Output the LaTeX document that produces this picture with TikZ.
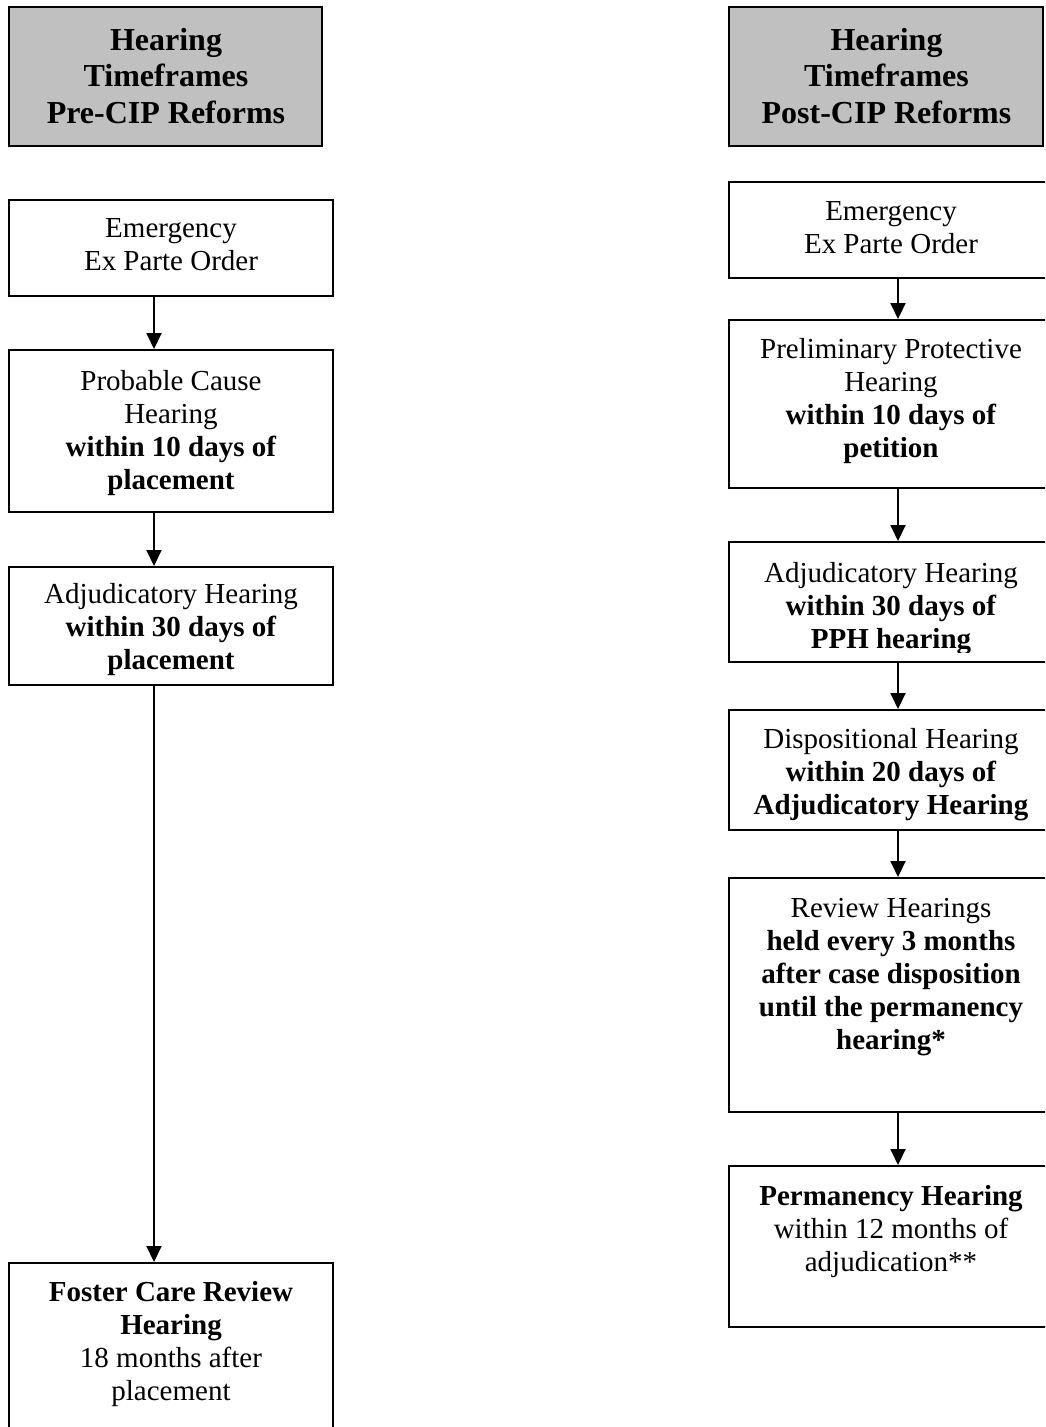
\documentclass[tikz,border=0pt]{standalone}
\usepackage{fontspec}
\setmainfont{Liberation Serif}
\usetikzlibrary{arrows.meta}
\definecolor{hdrgray}{RGB}{192,192,192}
\newcommand\stk[1]{\vtop{\let\\\cr\halign{\hfil##\hfil\cr#1\crcr}}}
\tikzset{
  box/.style={draw=black, line width=2pt, fill=white, rectangle, inner sep=0pt},
  hdrbox/.style={box, fill=hdrgray},
  body/.style={anchor=base, inner sep=0pt, font=\fontsize{29}{33}\selectfont},
  head/.style={anchor=base, inner sep=0pt, font=\fontsize{32}{36.5}\selectfont\bfseries},
  arr/.style={line width=2pt, -{Triangle[width=15pt,length=16pt]}}
}
\begin{document}
\begin{tikzpicture}[x=1pt,y=-1pt]
\useasboundingbox (0,0) rectangle (1045,1427);
\clip (0,0) rectangle (1045,1427);
% ---------- left column ----------
\node[hdrbox, minimum width=313pt, minimum height=139pt] (hL) at (165.5,76.5) {};
\node[box, minimum width=324pt, minimum height=96pt]  (eL) at (171,248) {};
\node[box, minimum width=324pt, minimum height=162pt] (pL) at (171,431) {};
\node[box, minimum width=324pt, minimum height=118pt] (aL) at (171,626) {};
\node[box, minimum width=324pt, minimum height=200pt] (fL) at (171,1363) {};
% ---------- right column ----------
\node[hdrbox, minimum width=314pt, minimum height=139pt] (hR) at (886,76.5) {};
\node[box, minimum width=324pt, minimum height=96pt]  (eR) at (891,230) {};
\node[box, minimum width=324pt, minimum height=168pt] (pR) at (891,404) {};
\node[box, minimum width=324pt, minimum height=120pt] (aR) at (891,602) {};
\node[box, minimum width=324pt, minimum height=120pt] (dR) at (891,770) {};
\node[box, minimum width=324pt, minimum height=234pt] (rR) at (891,995) {};
\node[box, minimum width=324pt, minimum height=161pt] (mR) at (891,1246.5) {};
% ---------- texts ----------
\node[head] (thL) at (166,50) {\stk{Hearing\\Timeframes\\Pre-CIP Reforms}};
\node[head] (thR) at (886.5,50) {\stk{Hearing\\Timeframes\\Post-CIP Reforms}};
\node[body] (teL) at (171,237) {\stk{Emergency\\Ex Parte Order}};
\node[body] (tpL) at (171,390) {\stk{Probable Cause\\Hearing\\\textbf{within 10 days of}\\\textbf{placement}}};
\node[body] (taL) at (171,603) {\stk{Adjudicatory Hearing\\\textbf{within 30 days of}\\\textbf{placement}}};
\node[body] (tfL) at (171,1301) {\stk{\textbf{Foster Care Review}\\\textbf{Hearing}\\18 months after\\placement}};
\node[body] (teR) at (891,220) {\stk{Emergency\\Ex Parte Order}};
\node[body] (tpR) at (891,358) {\stk{Preliminary Protective\\Hearing\\\textbf{within 10 days of}\\\textbf{petition}}};
\begin{scope}
\clip (729,540) rectangle (1045,652);
\node[body] (taR) at (891,582) {\stk{Adjudicatory Hearing\\\textbf{within 30 days of}\\\textbf{PPH hearing}}};
\end{scope}
\begin{scope}
\clip (729,708) rectangle (1045,820);
\node[body] (tdR) at (891,748) {\stk{Dispositional Hearing\\\textbf{within 20 days of}\\\textbf{Adjudicatory Hearing}}};
\end{scope}
\node[body] (trR) at (891,917) {\stk{Review Hearings\\\textbf{held every 3 months}\\\textbf{after case disposition}\\\textbf{until the permanency}\\\textbf{hearing*}}};
\node[body] (tmR) at (891,1205) {\stk{\textbf{Permanency Hearing}\\within 12 months of\\adjudication**}};
% ---------- connectors ----------
\coordinate (axL) at (154,0);
\coordinate (axR) at (898,0);
\draw[arr] (eL.south -| axL) -- (pL.north -| axL);
\draw[arr] (pL.south -| axL) -- (aL.north -| axL);
\draw[arr] (aL.south -| axL) -- (fL.north -| axL);
\draw[arr] (eR.south -| axR) -- (pR.north -| axR);
\draw[arr] (pR.south -| axR) -- (aR.north -| axR);
\draw[arr] (aR.south -| axR) -- (dR.north -| axR);
\draw[arr] (dR.south -| axR) -- (rR.north -| axR);
\draw[arr] (rR.south -| axR) -- (mR.north -| axR);
\end{tikzpicture}
\end{document}
